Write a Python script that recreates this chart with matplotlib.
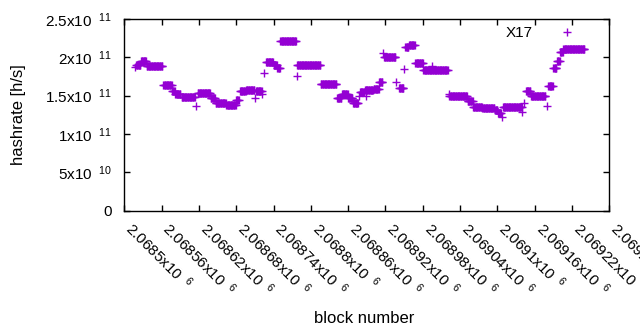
import numpy as np
import matplotlib
matplotlib.use("Agg")
from matplotlib import pyplot as plt

# runs of consecutive blocks that share one hashrate (x1e11 h/s)
run_start = [2068519, 2068527, 2068536, 2068563, 2068577, 2068582, 2068592, 2068618,
             2068639, 2068647, 2068664, 2068680, 2068686, 2068696, 2068712, 2068728,
             2068740, 2068746, 2068751, 2068778, 2068816, 2068842, 2068850, 2068860,
             2068868, 2068879, 2068887, 2068901, 2068910, 2068918, 2068942, 2068952,
             2068958, 2068968, 2068981, 2069023, 2069052, 2069061, 2069076, 2069096,
             2069101, 2069109, 2069146, 2069154, 2069182, 2069190, 2069196, 2069201,
             2069206]
run_end = [2068526, 2068535, 2068561, 2068576, 2068581, 2068590, 2068613, 2068638,
           2068646, 2068663, 2068679, 2068684, 2068695, 2068709, 2068721, 2068739,
           2068745, 2068750, 2068776, 2068815, 2068841, 2068849, 2068859, 2068867,
           2068876, 2068886, 2068900, 2068909, 2068915, 2068936, 2068949, 2068957,
           2068967, 2068980, 2069020, 2069051, 2069060, 2069075, 2069095, 2069100,
           2069106, 2069139, 2069153, 2069177, 2069189, 2069195, 2069200, 2069205,
           2069240]
run_rate = [1.90, 1.95, 1.887, 1.64, 1.56, 1.52, 1.478, 1.53,
            1.47, 1.40, 1.375, 1.45, 1.555, 1.575, 1.555, 1.935,
            1.90, 1.867, 2.21, 1.90, 1.648, 1.47, 1.52, 1.47,
            1.41, 1.55, 1.57, 1.59, 1.68, 2.00, 1.606, 2.14,
            2.16, 1.93, 1.834, 1.492, 1.43, 1.355, 1.34, 1.31,
            1.27, 1.352, 1.56, 1.49, 1.63, 1.867, 1.95, 2.07,
            2.108]

# stray single blocks
single_block = [2068517, 2068616, 2068711, 2068722, 2068725, 2068777, 2068878, 2068888,
                2068916, 2068937, 2068950, 2068995, 2069022, 2069108, 2069140, 2069143,
                2069180]
single_rate = [1.88, 1.36, 1.476, 1.52, 1.80, 1.756, 1.49, 1.49,
               2.06, 1.68, 1.848, 1.89, 1.518, 1.225, 1.29, 1.40,
               1.37]

x_ticks = [2068500, 2068560, 2068620, 2068680, 2068740, 2068800, 2068860,
           2068920, 2068980, 2069040, 2069100, 2069160, 2069220, 2069280]
y_ticks = [0, 5e10, 1e11, 1.5e11, 2e11, 2.5e11]
y_labels = ["0", "5x10$\\ \\,{}^{10}$", "1x10$\\ \\,{}^{11}$", "1.5x10$\\ \\,{}^{11}$",
            "2x10$\\ \\,{}^{11}$", "2.5x10$\\ \\,{}^{11}$"]

plt.rcParams["font.family"] = ["Liberation Sans", "DejaVu Sans"]
plt.rcParams["mathtext.fontset"] = "custom"
plt.rcParams["mathtext.rm"] = "Liberation Sans"
plt.rcParams["mathtext.default"] = "regular"
plt.rcParams["font.size"] = 11

blocks = np.concatenate([np.arange(s, e + 1) for s, e in zip(run_start, run_end)] + [single_block])
rates = np.concatenate([np.full(e - s + 1, r) for s, e, r in zip(run_start, run_end, run_rate)] + [single_rate]) * 1e11

fig = plt.figure(figsize=(6.4, 3.3), dpi=100)
ax = fig.add_axes([124.3 / 640, 1 - 210.7 / 330, 485 / 640, 191.7 / 330])

ax.plot(blocks, rates, linestyle="none", marker="+", markersize=6, markeredgewidth=1,
        color="#9400d3", label="X17")

ax.set_xlim(x_ticks[0], x_ticks[-1])
ax.set_ylim(0, 2.5e11)
ax.set_xticks(x_ticks, ["%gx10$\\ \\,{}^{6}$" % (v / 1e6) for v in x_ticks])
ax.set_yticks(y_ticks, y_labels)
ax.tick_params(direction="in", length=4.5, width=1, top=True, right=True, labelsize=11)
ax.tick_params(axis="y", pad=9)
ax.tick_params(axis="x", pad=14)
plt.setp(ax.get_xticklabels(), rotation=-45, ha="left", va="baseline", rotation_mode="anchor")
for sp in ax.spines.values():
    sp.set_linewidth(1)

ax.set_xlabel("block number", size=12)
ax.set_ylabel("hashrate [h/s]", size=12)
ax.xaxis.set_label_coords(0.494, -0.523)
ax.yaxis.set_label_coords(-0.203, 0.5)

ax.legend(loc="center right", bbox_to_anchor=(0.9608, 0.925), frameon=False,
          markerfirst=False, borderpad=0, handlelength=2, handletextpad=1.29,
          fontsize=11)

fig.savefig("out.png", dpi=100)
